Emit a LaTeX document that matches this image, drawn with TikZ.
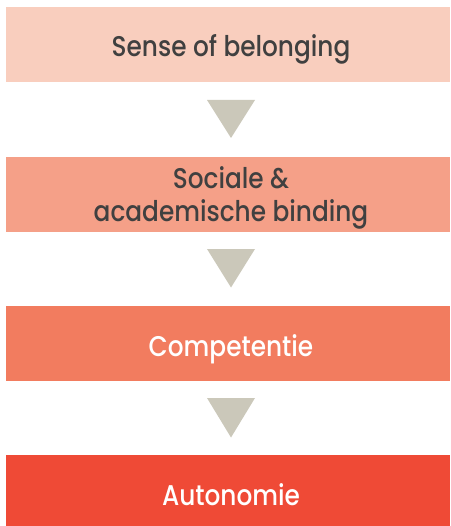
\documentclass[tikz,border=0pt]{standalone}
\usepackage{fontspec}
\setmainfont{Poppins}
\newfontfamily\medfont{Poppins Medium}[FakeStretch=0.87]
\usetikzlibrary{shapes.geometric}
\definecolor{cA}{HTML}{F9CEBE}
\definecolor{cB}{HTML}{F5A088}
\definecolor{cC}{HTML}{F27C5F}
\definecolor{cD}{HTML}{EF4A36}
\definecolor{tri}{HTML}{CBC8BA}
\definecolor{dark}{HTML}{404040}
\tikzset{
  stage/.style={fill=#1, draw=none, minimum width=444pt, minimum height=75pt, inner sep=0pt},
  label/.style={font=\medfont\fontsize{28.5}{32.5}\selectfont, align=center, inner sep=0pt},
  arrowtri/.style={fill=tri, draw=none},
}
\begin{document}
\begin{tikzpicture}[x=1pt,y=-1pt]
\useasboundingbox (0,0) rectangle (450,526);
\node[stage=cA] (s1) at (228,44.5) {};
\node[stage=cB] (s2) at (228,194.5) {};
\node[stage=cC] (s3) at (228,343.5) {};
\node[stage=cD, minimum height=72pt] (s4) at (228,491) {};
\node[label, text=dark, anchor=base] (t1) at (231,57) {Sense of belonging};
\node[label, text=dark, anchor=base] (t2) at (231,221.5) {Sociale \&\\academische binding};
\node[label, text=white, anchor=base] (t3) at (231,356.5) {Competentie};
\node[label, text=white, anchor=base] (t4) at (231,505) {Autonomie};
\fill[arrowtri] (207,100) -- (255,100) -- (231,138) -- cycle;
\fill[arrowtri] (207,249) -- (255,249) -- (231,287.5) -- cycle;
\fill[arrowtri] (207,398) -- (255,398) -- (231,437.5) -- cycle;
\end{tikzpicture}
\end{document}
